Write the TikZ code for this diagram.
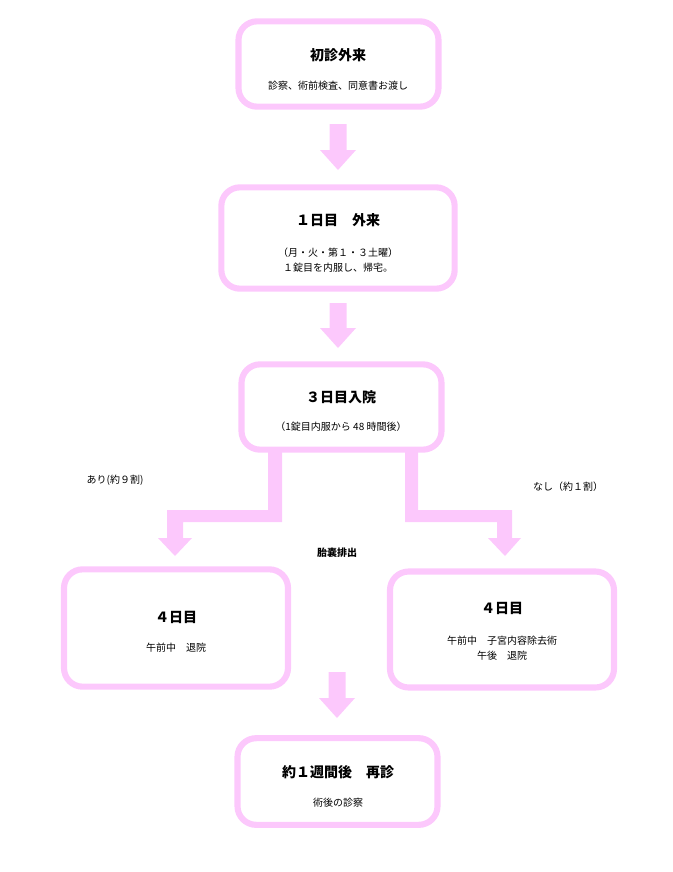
\documentclass[tikz,border=0pt]{standalone}
\usepackage{fontspec}
\setmainfont{Noto Sans CJK JP}
\usetikzlibrary{calc}
\definecolor{boxpink}{RGB}{252,200,252}
\begin{document}
\begin{tikzpicture}[x=0.75pt,y=-0.75pt]

	\tikzset{stepbox/.style={draw=boxpink, line width=4.6pt, rounded corners=14pt, inner sep=0pt}};
	\tikzset{title text/.style={font=\bfseries\fontsize{10.5}{12}\selectfont}};
	\tikzset{body text/.style={font=\fontsize{7.5}{11}\selectfont, align=center}};
	\tikzset{block arrow/.style={fill=boxpink, draw=none}};

	\useasboundingbox (0,0) rectangle (672,872);

	\node[stepbox, minimum width=150pt, minimum height=64pt] (first) at (338.5,64) {};
	\node[stepbox, minimum width=175pt, minimum height=76pt] (day1) at (338,238) {};
	\node[stepbox, minimum width=150pt, minimum height=64pt] (day3) at (341.5,407) {};
	\node[stepbox, minimum width=168pt, minimum height=88pt] (day4a) at (176,628) {};
	\node[stepbox, minimum width=168pt, minimum height=87pt] (day4b) at (502,629.5) {};
	\node[stepbox, minimum width=150pt, minimum height=65pt] (revisit) at (337.5,781.5) {};

	% texts
	\node[title text] (firstT) at (338,55) {初診外来};
	\node[body text] (firstB) at (338,86) {診察、術前検査、同意書お渡し};
	\node[title text] (day1T) at (338,220) {１日目　外来};
	\node[body text] (day1B) at (338,260) {（月・火・第１・３土曜）\\１錠目を内服し、帰宅。};
	\node[title text] (day3T) at (341,397) {３日目入院};
	\node[body text] (day3B) at (341,427) {（1錠目内服から 48 時間後）};
	\node[title text] (day4aT) at (176,617) {４日目};
	\node[body text] (day4aB) at (176,648) {午前中　退院};
	\node[title text] (day4bT) at (502,608) {４日目};
	\node[body text] (day4bB) at (502,648) {午前中　子宮内容除去術\\午後　退院};
	\node[title text] (revisitT) at (338,772) {約１週間後　再診};
	\node[body text] (revisitB) at (338,803) {術後の診察};

	\node[body text] (yes) at (115,480) {あり(約９割)};
	\node[body text] (no) at (568,487) {なし（約１割）};
	\node[font=\bfseries\fontsize{7.5}{9}\selectfont] (expel) at (337,553) {胎嚢排出};

	% straight arrows
	\foreach \x/\ya/\yb/\yc in {338/124/150/170, 338/303/328/348, 337/672/698/718}
		\fill[block arrow] (\x-8.5,\ya) -- (\x+8.5,\ya) -- (\x+8.5,\yb) -- (\x+18,\yb)
			-- (\x,\yc) -- (\x-18,\yb) -- (\x-8.5,\yb) -- cycle;

	% branch arrows
	\fill[block arrow] (268,451) -- (282,451) -- (282,522) -- (183,522) -- (183,538) -- (192,538)
		-- (175,556) -- (158,538) -- (167,538) -- (167,510) -- (268,510) -- cycle;
	\fill[block arrow] (405,451) -- (418,451) -- (418,510) -- (512,510) -- (512,538) -- (521,538)
		-- (505,556) -- (488,538) -- (497,538) -- (497,522) -- (405,522) -- cycle;

\end{tikzpicture}
\end{document}
